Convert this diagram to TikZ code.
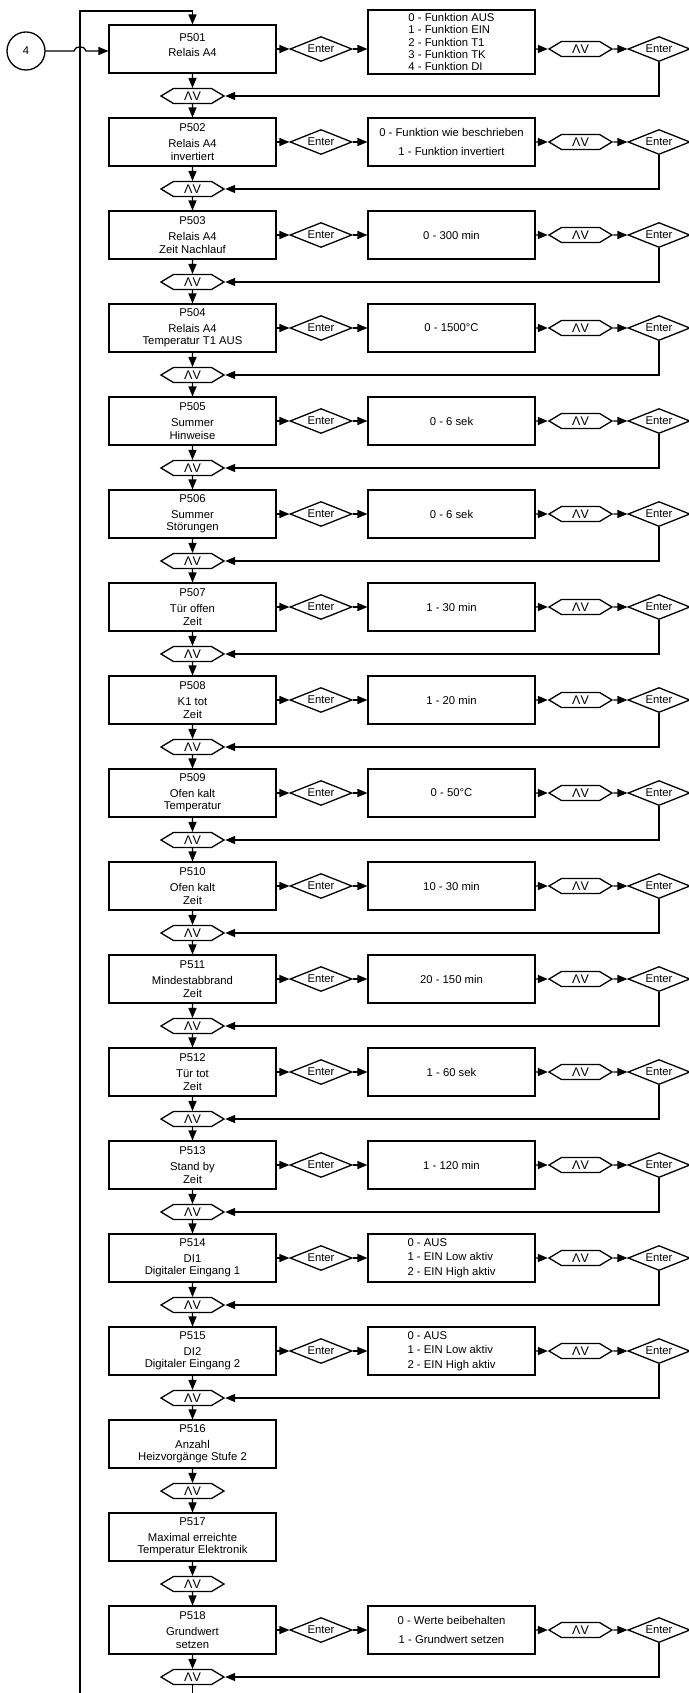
\documentclass[tikz,border=0pt]{standalone}
\usepackage{fontspec}
\setmainfont{Liberation Sans}
\usetikzlibrary{shapes, calc, arrows, math}

\tikzset{
  param/.style={draw, rectangle, minimum width=167pt, minimum height=48pt, inner sep=0pt, align=center},
  wert/.style={draw, rectangle, minimum width=167pt, minimum height=48pt, inner sep=0pt, align=center},
  enter/.style={draw, diamond, aspect=2.48, minimum width=62pt, minimum height=25pt, inner sep=0pt},
  taste/.style={draw, signal, signal to=east and west, signal pointer angle=62, minimum width=63pt, minimum height=15pt, inner sep=0pt, font=\fontsize{12.5}{14}\selectfont}
}

\begin{document}
\begin{tikzpicture}[x=1pt, y=-1pt, >=triangle 45, line width=1.3pt, font=\fontsize{11.3}{12.7}\selectfont]

\tikzmath{
  \xpar = 192.5; \xent = 321; \xwert = 451.5; \xwahl = 580.5; \xbest = 659;
  \ystart = 49; \ystep = 93;
}

\useasboundingbox (0,0) rectangle (688,1693);

\foreach \i/\txt in {1/{Relais A4\\[-5pt]\mbox{}}, 2/{Relais A4\\invertiert}, 3/{Relais A4\\Zeit Nachlauf},
  4/{Relais A4\\Temperatur T1 AUS}, 5/{Summer\\Hinweise}, 6/{Summer\\Störungen}, 7/{Tür offen\\Zeit},
  8/{K1 tot\\Zeit}, 9/{Ofen kalt\\Temperatur}, 10/{Ofen kalt\\Zeit}, 11/{Mindestabbrand\\Zeit},
  12/{Tür tot\\Zeit}, 13/{Stand by\\Zeit}, 14/{DI1\\Digitaler Eingang 1}, 15/{DI2\\Digitaler Eingang 2},
  16/{Anzahl\\Heizvorgänge Stufe 2}, 17/{Maximal erreichte\\Temperatur Elektronik}, 18/{Grundwert\\setzen}}
{
  \pgfmathtruncatemacro{\nr}{500+\i}
  \node[param] (par\i) at (\xpar, {\ystart+\ystep*(\i-1)}) {P\nr\\[3pt]\txt};
  \node[taste] (nav\i) at (\xpar, {\ystart+47+\ystep*(\i-1)}) {ΛV};
  \draw[->] (par\i) -- (nav\i);
}

\foreach \i in {1,...,17}{
  \pgfmathtruncatemacro{\j}{\i+1}
  \draw[->] (nav\i) -- (par\j);
}

% Wertebereiche
\node[wert, minimum height=64pt, align=left, font=\fontsize{11.3}{12.2}\selectfont] (wert1) at (\xwert, 42)
  {0 - Funktion AUS\\1 - Funktion EIN\\2 - Funktion T1\\3 - Funktion TK\\4 - Funktion DI};
\node[wert, align=left] (wert14) at (\xwert, {\ystart+\ystep*13})
  {0 - AUS\\[2pt]1 - EIN Low aktiv\\[2pt]2 - EIN High aktiv};
\node[wert, align=left] (wert15) at (\xwert, {\ystart+\ystep*14})
  {0 - AUS\\[2pt]1 - EIN Low aktiv\\[2pt]2 - EIN High aktiv};

\foreach \i/\txt in {2/{0 - Funktion wie beschrieben\\[7pt]1 - Funktion invertiert}, 3/{0 - 300 min},
  4/{0 - 1500°C}, 5/{0 - 6 sek}, 6/{0 - 6 sek}, 7/{1 - 30 min}, 8/{1 - 20 min}, 9/{0 - 50°C},
  10/{10 - 30 min}, 11/{20 - 150 min}, 12/{1 - 60 sek}, 13/{1 - 120 min},
  18/{0 - Werte beibehalten\\[7pt]1 - Grundwert setzen}}
  \node[wert] (wert\i) at (\xwert, {\ystart+\ystep*(\i-1)}) {\txt};

\foreach \i in {1,...,15,18}{
  \node[enter] (ent\i) at (\xent, {\ystart+\ystep*(\i-1)}) {Enter};
  \node[taste] (wahl\i) at (\xwahl, {\ystart+\ystep*(\i-1)}) {ΛV};
  \node[enter] (best\i) at (\xbest, {\ystart+\ystep*(\i-1)}) {Enter};
  \draw[->] (par\i) -- (ent\i);
  \draw[->] (ent\i) -- (ent\i -| wert\i.west);
  \draw[->] (wert\i.east |- wahl\i) -- (wahl\i);
  \draw[->] (wahl\i) -- (best\i);
  \draw[->] (best\i) |- (nav\i);
}

% Einsprung und Ruecksprung
\node[draw, circle, minimum size=38pt, inner sep=0pt] (start) at (26,51) {4};
\coordinate (sprung) at (74,51);
\coordinate (unten) at (80,1693);
\coordinate (weiter) at (\xpar,1693);

\draw[->] (start) -- (sprung) arc[start angle=180, end angle=360, x radius=6, y radius=4] -- (par1.west |- start);
\draw[->] (unten) |- (par1.north |- 0,11) -- (par1);
\draw (nav18) -- (weiter);

\end{tikzpicture}
\end{document}
